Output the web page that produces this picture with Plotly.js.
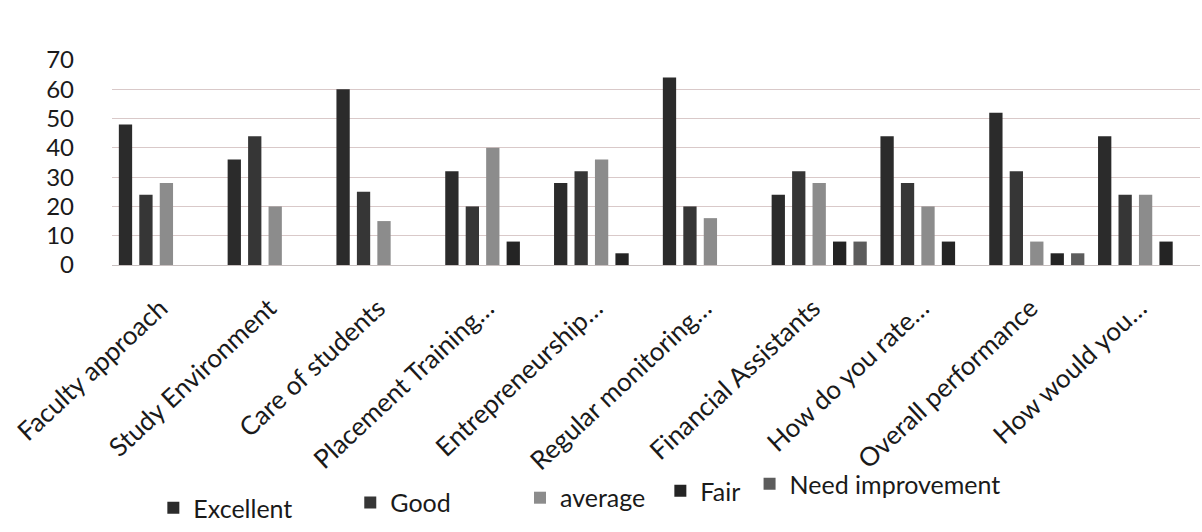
<!DOCTYPE html>
<html>
<head>
<meta charset="utf-8">
<script src="https://cdn.plot.ly/plotly-3.0.1.min.js"></script>
<style>html,body{margin:0;padding:0;background:#fff;}#chart{width:1202px;height:532px;}</style>
</head>
<body>
<div id="chart"></div>
<script>
const categories = ["Faculty approach", "Study Environment", "Care of students", "Placement Training…",
  "Entrepreneurship…", "Regular monitoring…", "Financial Assistants", "How do you rate…",
  "Overall performance", "How would you…"];
const seriesNames = ["Excellent", "Good", "average", "Fair", "Need improvement"];
const excellent = [48, 36, 60, 32, 28, 64, 24, 44, 52, 44];
const good      = [24, 44, 25, 20, 32, 20, 32, 28, 32, 24];
const average   = [28, 20, 15, 40, 36, 16, 28, 20, 8, 24];
const fair      = [0, 0, 0, 8, 4, 0, 8, 8, 4, 8];
const needImp   = [0, 0, 0, 0, 0, 0, 8, 0, 4, 0];
const yTicks = [0, 10, 20, 30, 40, 50, 60, 70];

const colors = ["#2b2b2b", "#363636", "#8c8c8c", "#242424", "#5c5c5c"];
const values = [excellent, good, average, fair, needImp];
const legendIds = ["legend", "legend2", "legend3", "legend4", "legend5"];
const legendX = [0.038, 0.219, 0.375, 0.504, 0.586];
const legendY = [0.045, 0.055, 0.064, 0.077, 0.09];

const traces = values.map((v, i) => ({
  type: "bar",
  name: seriesNames[i],
  x: categories,
  y: v,
  legend: legendIds[i],
  marker: {color: colors[i], line: {width: 0}}
}));

const layout = {
  width: 1202, height: 532,
  margin: {l: 112, r: 2, t: 60, b: 267, autoexpand: false},
  paper_bgcolor: "#fff", plot_bgcolor: "#fff",
  font: {family: "Lato, 'Open Sans', sans-serif", color: "#1a1a1a", size: 24},
  barmode: "group",
  bargap: 0.06,
  bargroupgap: 0.35,
  xaxis: {tickangle: -43, tickfont: {size: 26, color: "#1a1a1a"}, showgrid: false, showline: false, ticks: "",
          automargin: false, ticklabelstandoff: 22, ticklabelshift: -6},
  yaxis: {range: [0, 70], tickvals: yTicks, ticktext: yTicks.map(String), tickfont: {size: 24, color: "#1a1a1a"},
          ticklabelstandoff: 37, automargin: false,
          showgrid: true, gridcolor: "#d9c9c9", gridwidth: 1, zeroline: true, zerolinecolor: "#c8c0c0", ticks: "", ticklen: 0},
  showlegend: true
};
legendIds.forEach((id, i) => {
  layout[id] = {orientation: "h", x: legendX[i], xanchor: "left", y: legendY[i], yanchor: "middle",
                yref: "container", font: {size: 25, color: "#1a1a1a"}, bgcolor: "rgba(0,0,0,0)"};
});

Plotly.newPlot("chart", traces, layout, {displayModeBar: false, staticPlot: true});
</script>
</body>
</html>
